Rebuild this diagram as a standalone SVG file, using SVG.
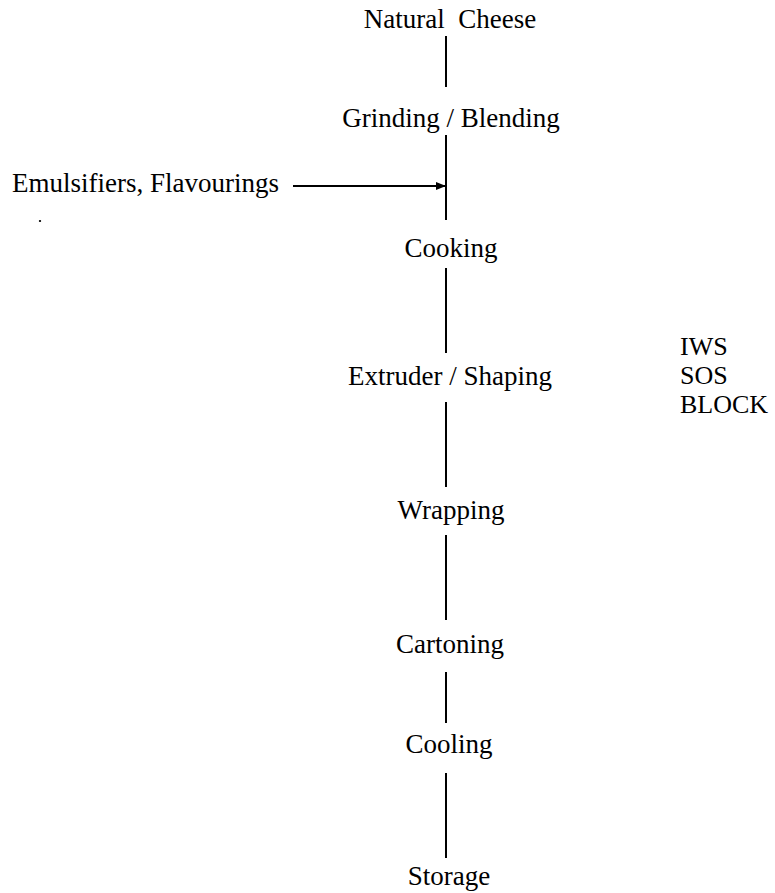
<svg xmlns="http://www.w3.org/2000/svg" width="775" height="893" viewBox="0 0 775 893">
<style>
text{font-family:"Liberation Serif","Times New Roman",serif;font-size:27px;fill:#000}
.n text{text-anchor:middle}
#formats text{font-size:26px}
.c line{stroke:#000;stroke-width:2}
</style>
<defs>
<marker id="ah" markerWidth="10" markerHeight="8" refX="9" refY="4" orient="auto" markerUnits="userSpaceOnUse">
<path d="M0,0 L10,4 L0,8 Z" fill="#000"/>
</marker>
</defs>
<rect width="775" height="893" fill="#fff"/>
<g id="natural-cheese" class="n"><text x="450" y="28" xml:space="preserve">Natural  Cheese</text></g>
<g id="grinding" class="n"><text x="451" y="127">Grinding / Blending</text></g>
<g id="emulsifiers"><text x="12" y="192">Emulsifiers, Flavourings</text></g>
<g id="cooking" class="n"><text x="451" y="257">Cooking</text></g>
<g id="extruder" class="n"><text x="450" y="385">Extruder / Shaping</text></g>
<g id="formats"><text x="680" y="355">IWS</text><text x="680" y="384">SOS</text><text x="680" y="413">BLOCK</text></g>
<g id="wrapping" class="n"><text x="451" y="519">Wrapping</text></g>
<g id="cartoning" class="n"><text x="450" y="653">Cartoning</text></g>
<g id="cooling" class="n"><text x="449" y="753">Cooling</text></g>
<g id="storage" class="n"><text x="449" y="885">Storage</text></g>
<g id="connectors" class="c">
<line x1="446" y1="36" x2="446" y2="87"/>
<line x1="446" y1="135" x2="446" y2="220"/>
<line x1="293" y1="186" x2="445" y2="186" marker-end="url(#ah)"/>
<line x1="446" y1="268" x2="446" y2="353"/>
<line x1="446" y1="402" x2="446" y2="487"/>
<line x1="446" y1="535" x2="446" y2="620"/>
<line x1="446" y1="672" x2="446" y2="723"/>
<line x1="446" y1="773" x2="446" y2="858"/>
</g>
<ellipse cx="40" cy="221" rx="1.2" ry="1" fill="#000"/>
</svg>
